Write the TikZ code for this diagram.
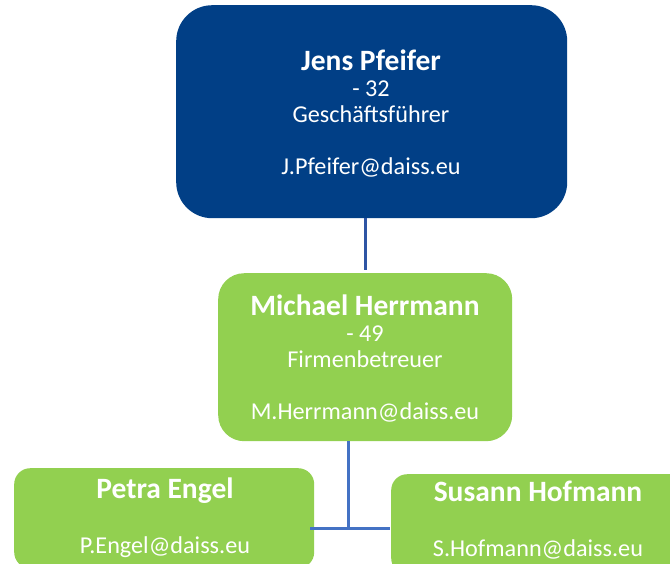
\documentclass[tikz,border=0pt]{standalone}
\usepackage{fontspec}
\setmainfont{Carlito}
\definecolor{navy}{HTML}{013F86}
\definecolor{leaf}{HTML}{92D050}
\definecolor{linkA}{HTML}{2F55A4}
\definecolor{linkB}{HTML}{4472C4}
\begin{document}
\begin{tikzpicture}[x=1pt,y=-1pt,
  box/.style={draw=none,rounded corners=#1,inner sep=0pt,anchor=north west},
  txt/.style={text=white,align=center,inner sep=0pt,anchor=base,font=\fontsize{24.2}{26}\selectfont},
  link/.style={line width=3pt}]
\useasboundingbox (0,0) rectangle (670,563);
\begin{scope}
\clip (0,0) rectangle (670,563);
% boxes
\node[box=36pt,fill=navy,minimum width=391pt,minimum height=213pt] (ceo) at (176,5) {};
\node[box=26pt,fill=leaf,minimum width=294pt,minimum height=168pt] (mgr) at (218,273) {};
\node[box=16pt,fill=leaf,minimum width=300pt,minimum height=100pt] (petra) at (14,468) {};
\node[box=16pt,fill=leaf,minimum width=300pt,minimum height=100pt] (susann) at (391,474) {};
% texts (anchor = baseline of the last line)
\node[txt] (ceotext) at (371,174) {{\fontsize{29.5}{29}\selectfont\bfseries Jens Pfeifer}\\- 32\\Geschäftsführer\\[26pt]J.Pfeifer@daiss.eu};
\node[txt] (mgrtext) at (365,419) {{\fontsize{29.5}{28}\selectfont\bfseries Michael Herrmann}\\- 49\\Firmenbetreuer\\[26pt]M.Herrmann@daiss.eu};
\node[txt] (petratext) at (165,553) {{\fontsize{29.5}{28}\selectfont\bfseries Petra Engel}\\[29pt]P.Engel@daiss.eu};
\node[txt] (susanntext) at (538,556) {{\fontsize{29.5}{28}\selectfont\bfseries Susann Hofmann}\\[29pt]S.Hofmann@daiss.eu};
% connectors
\coordinate (j1) at (365,218);
\coordinate (j2) at (365,270);
\coordinate (m1) at (348,441);
\coordinate (m2) at (348,528);
\coordinate (pl) at (310,528);
\coordinate (sr) at (390,528);
\draw[link,draw=linkA] (j1) -- (j2);
\draw[link,draw=linkB] (m1) -- (m2);
\draw[link,draw=linkB] (pl) -- (sr);
\end{scope}
\end{tikzpicture}
\end{document}
